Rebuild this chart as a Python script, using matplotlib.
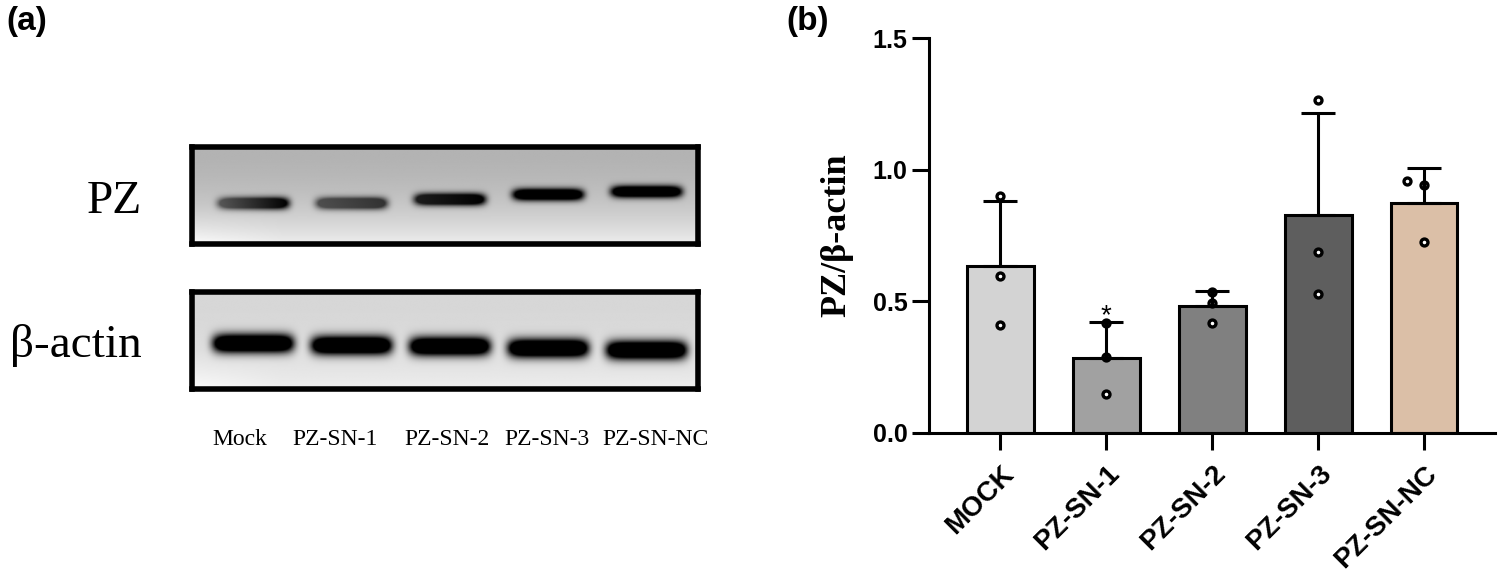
import numpy as np
import matplotlib
matplotlib.use("Agg")
import matplotlib.pyplot as plt

# ***data
lanes = ['Mock', 'PZ-SN-1', 'PZ-SN-2', 'PZ-SN-3', 'PZ-SN-NC']
lane_label_shift = [-0.13, -0.17, -0.03, -0.01, 0.09]
groups = ['MOCK', 'PZ-SN-1', 'PZ-SN-2', 'PZ-SN-3', 'PZ-SN-NC']
# blot band darkness (left half / right half) and vertical position (fraction from top)
pz_dark_left = [0.55, 0.60, 0.85, 1.0, 1.0]
pz_dark_right = [1.0, 0.75, 1.0, 1.0, 1.0]
pz_band_y = [0.58, 0.58, 0.54, 0.49, 0.46]
actin_dark = [1.0, 1.0, 1.0, 1.0, 1.0]
actin_band_y = [0.53, 0.55, 0.56, 0.58, 0.60]
# quantification
means = [0.635, 0.285, 0.482, 0.827, 0.875]
sds = [0.245, 0.135, 0.059, 0.388, 0.130]
points = [[0.90, 0.596, 0.41],
          [0.418, 0.289, 0.148],
          [0.535, 0.494, 0.418],
          [1.265, 0.687, 0.528],
          [0.957, 0.942, 0.725]]
point_dx = [[0, 0, 0], [0, 0, 0], [0, 0, 0], [0, 0, 0], [-0.16, 0, 0]]
bar_colors = ['#d3d3d3', '#a1a1a1', '#808080', '#5e5e5e', '#dbbfa7']
yticks = [0.0, 0.5, 1.0, 1.5]

fig = plt.figure(figsize=(14.99, 5.82), dpi=100)


def blot(ax, band_y, dark_l, dark_r, half_w, thick, bg_top, bg_bot):
    x0, x1 = -0.62, 4.52
    X, Y = np.meshgrid(np.linspace(x0, x1, 800), np.linspace(0, 1, 160))
    bg = bg_top + (bg_bot - bg_top) * Y ** 2
    bg = bg + 0.06 * np.clip((Y - 0.6) / 0.4, 0, 1) * np.clip((0.3 - X) / 1.0, 0, 1)
    dark = np.zeros_like(X)
    for i in range(len(band_y)):
        t = np.clip((X - i + half_w) / (2 * half_w), 0, 1)
        amp = dark_l[i] + (dark_r[i] - dark_l[i]) * t
        prof = np.exp(-((X - i) / half_w) ** 8) * np.exp(-((Y - band_y[i]) / thick) ** 2)
        dark = np.maximum(dark, amp * np.clip(1.8 * prof, 0, 1))
    img = np.clip(bg * (1 - dark), 0, 1)
    ax.imshow(img, cmap='gray', vmin=0, vmax=1, extent=(x0, x1, 1, 0),
              aspect='auto', interpolation='bilinear')
    ax.set_xlim(x0, x1)
    ax.set_ylim(1, 0)
    ax.set_xticks([])
    ax.set_yticks([])
    for s in ax.spines.values():
        s.set_linewidth(4)


ax_pz = fig.add_axes([192 / 1499, (582 - 244) / 582, 506 / 1499, 97 / 582])
blot(ax_pz, pz_band_y, pz_dark_left, pz_dark_right, 0.36, 0.06, 0.70, 0.93)
ax_ac = fig.add_axes([192 / 1499, (582 - 389) / 582, 506 / 1499, 97 / 582])
blot(ax_ac, actin_band_y, actin_dark, actin_dark, 0.41, 0.095, 0.84, 0.93)

fig.text(142 / 1499, (582 - 213) / 582, 'PZ', family='Liberation Serif', fontsize=34,
         ha='right', va='baseline')
fig.text(142 / 1499, (582 - 357) / 582, '\u03b2-actin', family='Liberation Serif', fontsize=34,
         ha='right', va='baseline')
for i, lab in enumerate(lanes):
    ax_ac.text(i + lane_label_shift[i], -0.58, lab, transform=ax_ac.get_xaxis_transform(),
               ha='center', va='baseline', family='Liberation Serif', fontsize=17)

# ***bar chart
ax = fig.add_axes([929 / 1499, (582 - 433) / 582, 566 / 1499, 395 / 582])
x_pos = np.arange(len(groups))
ax.bar(x_pos, means, 0.63, color=bar_colors, edgecolor='black', linewidth=2.2, zorder=2)
for i in range(len(groups)):
    ax.plot(x_pos[i] + np.array(point_dx[i]), points[i], 'o', ms=5, mfc='white',
            mec='black', mew=2.4, zorder=3, clip_on=False)
ax.errorbar(x_pos, means, yerr=[np.zeros(len(means)), sds], fmt='none', ecolor='black',
            elinewidth=2.2, capsize=12, capthick=2.2, zorder=4)
ax.text(x_pos[1], means[1] + sds[1] + 0.025, '*', ha='center', va='center',
        fontsize=20, family='Liberation Sans')

ax.set_xlim(-0.675, 4.67)
ax.set_ylim(0, 1.5)
ax.set_yticks(yticks)
ax.set_yticklabels(['%.1f' % v for v in yticks])
ax.set_xticks(x_pos)
ax.set_xticklabels(groups, rotation=45, ha='right', rotation_mode='anchor')
for s in ['top', 'right']:
    ax.spines[s].set_visible(False)
for s in ['left', 'bottom']:
    ax.spines[s].set_linewidth(2.2)
ax.tick_params(direction='out', length=12, width=2.2)
ax.tick_params(axis='y', pad=3.6)
ax.tick_params(axis='x', pad=8)
for lab in ax.get_yticklabels():
    lab.set_family('Liberation Sans')
    lab.set_fontweight('bold')
    lab.set_fontsize(18)
for lab in ax.get_xticklabels():
    lab.set_family('Liberation Sans')
    lab.set_fontweight('bold')
    lab.set_fontsize(20)
ax.set_ylabel('PZ/\u03b2-actin', family='Liberation Serif', fontweight='bold', fontsize=26)
ax.yaxis.set_label_coords(-0.134, 0.5)

fig.text(0.004, 0.99, '(a)', family='Liberation Sans', fontweight='bold', fontsize=24, va='top')
fig.text(786 / 1499, 0.99, '(b)', family='Liberation Sans', fontweight='bold', fontsize=24, va='top')

fig.savefig('out.png', dpi=100)
